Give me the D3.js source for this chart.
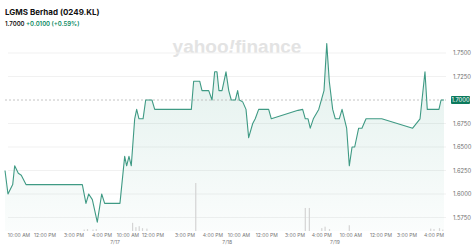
<!DOCTYPE html>
<html>
<head>
<meta charset="utf-8">
<script src="https://cdn.jsdelivr.net/npm/d3@7"></script>
<style>
  body { margin: 0; background: #fff; }
  svg { display: block; font-family: "Inter", "Liberation Sans", sans-serif; }
</style>
</head>
<body>
<div id="chart"></div>
<script>
// session position (trading days from the first open) and price
var times = [0, 0.027, 0.07, 0.088, 0.121, 0.148, 0.191, 0.703, 0.736, 0.761, 0.794, 0.839, 0.879, 0.906,
  1.045, 1.088, 1.106, 1.127, 1.148, 1.179, 1.197, 1.218, 1.255, 1.279, 1.336, 1.361, 1.694, 1.715, 1.77,
  1.791, 1.852, 1.882, 1.906, 1.927, 1.945, 1.973, 2.009, 2.034, 2.057, 2.094, 2.115, 2.13, 2.161, 2.191,
  2.215, 2.252, 2.275, 2.306, 2.397, 2.421, 2.664, 2.706, 2.73, 2.755, 2.775, 2.803, 2.852, 2.9, 2.925,
  2.948, 2.979, 3.003, 3.039, 3.064, 3.106, 3.13, 3.155, 3.179, 3.215, 3.245, 3.282, 3.425, 3.706, 3.773,
  3.818, 3.839, 3.945, 3.964, 3.991];
var prices = [1.625, 1.60, 1.61, 1.63, 1.622, 1.62, 1.61, 1.61, 1.59, 1.60, 1.594, 1.57, 1.60, 1.59,
  1.59, 1.64, 1.63, 1.64, 1.63, 1.68, 1.69, 1.68, 1.68, 1.70, 1.70, 1.69, 1.69, 1.72, 1.72,
  1.71, 1.71, 1.70, 1.73, 1.73, 1.71, 1.71, 1.73, 1.71, 1.70, 1.70, 1.71, 1.70, 1.698, 1.69,
  1.66, 1.675, 1.68, 1.69, 1.69, 1.68, 1.689, 1.69, 1.68, 1.68, 1.67, 1.68, 1.69, 1.71, 1.76,
  1.72, 1.69, 1.68, 1.68, 1.69, 1.67, 1.63, 1.65, 1.65, 1.67, 1.67, 1.68, 1.68, 1.67, 1.68,
  1.73, 1.69, 1.69, 1.70, 1.70];

// volume bars
var volTimes = [0.72, 0.75, 0.80, 0.83, 1.16, 1.19, 1.22, 1.25, 1.29, 1.734, 2.73, 2.767, 2.88, 2.91, 2.95, 3.13, 3.87, 3.9, 3.95, 3.98];
var volValues = [3, 4, 3, 4, 17, 8, 10, 6, 5, 100, 48, 48, 6, 9, 4, 12, 5, 4, 6, 3];

var yTicks = [1.575, 1.6, 1.625, 1.65, 1.675, 1.7, 1.725, 1.75];
var xTickTimes = [0.127, 0.364, 0.627, 0.882, 1.118, 1.345, 1.636, 1.89, 2.127, 2.38, 2.636, 2.88, 3.145, 3.418, 3.655, 3.9];
var xTickLabels = ["10:00 AM", "12:00 PM", "3:00 PM", "4:00 PM", "10:00 AM", "12:00 PM", "3:00 PM", "4:00 PM",
  "10:00 AM", "12:00 PM", "3:00 PM", "4:00 PM", "10:00 AM", "12:00 PM", "3:00 PM", "4:00 PM"];
var dayTimes = [1, 2.02, 3];
var dayLabels = ["7/17", "7/18", "7/19"];
var lastPrice = 1.70;

var width = 474, height = 248;
var svg = d3.select("#chart").append("svg")
  .attr("width", width)
  .attr("height", height);

var x = d3.scaleLinear().domain([0, 4]).range([5, 445]);
var y = d3.scaleLinear().domain([1.575, 1.75]).range([217.5, 53]);
var yVol = d3.scaleLinear().domain([0, 100]).range([231, 183]);

// title
svg.append("text")
  .attr("x", 5).attr("y", 15)
  .style("font-size", "8px").style("font-weight", "700").style("fill", "#111")
  .text("LGMS Berhad (0249.KL)");
var sub = svg.append("text")
  .attr("x", 5).attr("y", 26)
  .style("font-size", "6px").style("font-weight", "600");
sub.append("tspan").style("fill", "#111").text("1.7000 ");
sub.append("tspan").style("fill", "#0a8a5f").text("+0.0100 (+0.59%)");

// watermark
var wm = svg.append("text")
  .attr("x", 237).attr("y", 53)
  .attr("text-anchor", "middle")
  .style("font-size", "19px").style("font-weight", "800").style("fill", "#e3e3e3")
  .style("font-family", "'Liberation Sans', sans-serif");
wm.append("tspan").text("yahoo");
wm.append("tspan").style("font-style", "italic").text("!");
wm.append("tspan").text("finance");

// grid
svg.append("g")
  .selectAll("line")
  .data(yTicks.filter(function(d) { return d !== lastPrice; }))
  .enter()
  .append("line")
    .attr("x1", 8).attr("x2", 446)
    .attr("y1", function(d) { return y(d); })
    .attr("y2", function(d) { return y(d); })
    .attr("stroke", "#f1f1f1")
    .attr("stroke-width", 1);

// area gradient
var grad = svg.append("defs").append("linearGradient")
  .attr("id", "fill").attr("x1", 0).attr("y1", 0).attr("x2", 0).attr("y2", 1);
grad.append("stop").attr("offset", "0%").attr("stop-color", "#2a9478").attr("stop-opacity", 0.14);
grad.append("stop").attr("offset", "100%").attr("stop-color", "#2a9478").attr("stop-opacity", 0.02);

var series = times.map(function(t, i) { return { t: t, p: prices[i] }; });

svg.append("path")
  .datum(series)
  .attr("fill", "url(#fill)")
  .attr("d", d3.area()
    .x(function(d) { return x(d.t); })
    .y0(231)
    .y1(function(d) { return y(d.p); }));

// volume
svg.append("g")
  .selectAll("rect")
  .data(volTimes)
  .enter()
  .append("rect")
    .attr("x", function(d) { return x(d) - 0.6; })
    .attr("width", 1.2)
    .attr("y", function(d, i) { return yVol(volValues[i]); })
    .attr("height", function(d, i) { return yVol(0) - yVol(volValues[i]); })
    .attr("fill", "#d4d4d4");

// last price dashed line
svg.append("line")
  .attr("x1", 5).attr("x2", 446)
  .attr("y1", y(lastPrice)).attr("y2", y(lastPrice))
  .attr("stroke", "#b5b5b5")
  .attr("stroke-width", 0.8)
  .attr("stroke-dasharray", "2,2");

// price line
svg.append("path")
  .datum(series)
  .attr("fill", "none")
  .attr("stroke", "#3f9a84")
  .attr("stroke-width", 1.1)
  .attr("stroke-linejoin", "round")
  .attr("d", d3.line()
    .x(function(d) { return x(d.t); })
    .y(function(d) { return y(d.p); }));

// y labels
svg.append("g")
  .selectAll("text")
  .data(yTicks.filter(function(d) { return d !== lastPrice; }))
  .enter()
  .append("text")
    .attr("x", 453)
    .attr("y", function(d) { return y(d) + 2; })
    .style("font-size", "5.8px").style("fill", "#6e6e6e")
    .text(function(d) { return d3.format(".4f")(d); });

svg.append("rect")
  .attr("x", 451).attr("y", y(lastPrice) - 4)
  .attr("width", 19).attr("height", 8)
  .attr("rx", 1)
  .attr("fill", "#0c7a5d");
svg.append("text")
  .attr("x", 460.5).attr("y", y(lastPrice) + 2)
  .attr("text-anchor", "middle")
  .style("font-size", "5.8px").style("fill", "#fff")
  .text(d3.format(".4f")(lastPrice));

// x labels
svg.append("g")
  .selectAll("text")
  .data(xTickTimes)
  .enter()
  .append("text")
    .attr("x", function(d) { return x(d); })
    .attr("y", 237)
    .attr("text-anchor", "middle")
    .style("font-size", "5px").style("fill", "#777")
    .text(function(d, i) { return xTickLabels[i]; });

svg.append("g")
  .selectAll("text")
  .data(dayTimes)
  .enter()
  .append("text")
    .attr("x", function(d) { return x(d); })
    .attr("y", 243.5)
    .attr("text-anchor", "middle")
    .style("font-size", "5px").style("fill", "#777")
    .text(function(d, i) { return dayLabels[i]; });
</script>
</body>
</html>
